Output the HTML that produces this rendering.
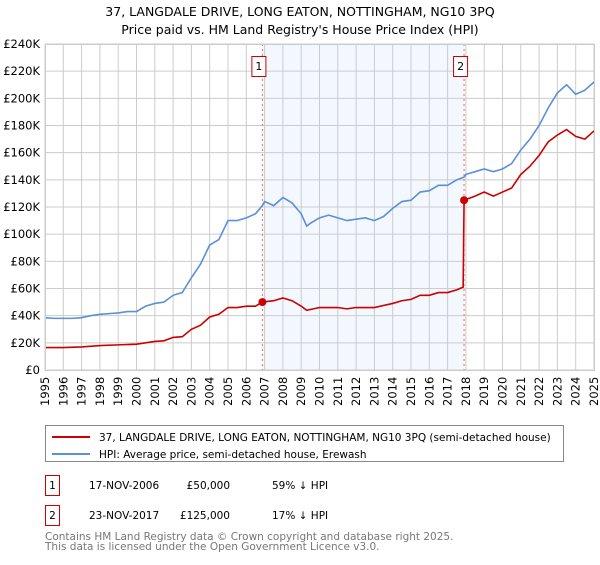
<!DOCTYPE html>
<html><head><meta charset="utf-8"><style>
body{margin:0;background:#fff;font-family:"Liberation Sans","DejaVu Sans",sans-serif;}
svg text{font-family:"DejaVu Sans","Liberation Sans",sans-serif;}
</style></head><body>
<svg id="c" width="600" height="560" xmlns="http://www.w3.org/2000/svg">
<text x="300" y="16" text-anchor="middle" font-size="12.5">37, LANGDALE DRIVE, LONG EATON, NOTTINGHAM, NG10 3PQ</text>
<text x="300" y="34" text-anchor="middle" font-size="12.5">Price paid vs. HM Land Registry's House Price Index (HPI)</text>
<g id="plot"></g>
<g>
<rect x="45.5" y="425.5" width="518" height="36" fill="#fff" stroke="#888"/>
<line x1="52" y1="437" x2="90" y2="437" stroke="#cc0000" stroke-width="2"/>
<text x="99" y="441" font-size="10.5">37, LANGDALE DRIVE, LONG EATON, NOTTINGHAM, NG10 3PQ (semi-detached house)</text>
<line x1="52" y1="454" x2="90" y2="454" stroke="#5b8fd6" stroke-width="2"/>
<text x="99" y="458" font-size="10.5">HPI: Average price, semi-detached house, Erewash</text>
</g>
<g font-size="10.5">
<rect x="45.5" y="475.5" width="14" height="20" fill="#fff" stroke="#cc0000"/>
<text x="52.5" y="489" text-anchor="middle">1</text>
<text x="89" y="489">17-NOV-2006</text><text x="230" y="489" text-anchor="end">£50,000</text><text x="272" y="489">59% ↓ HPI</text>
<rect x="45.5" y="505.5" width="14" height="20" fill="#fff" stroke="#cc0000"/>
<text x="52.5" y="519" text-anchor="middle">2</text>
<text x="89" y="519">23-NOV-2017</text><text x="230" y="519" text-anchor="end">£125,000</text><text x="272" y="519">17% ↓ HPI</text>
</g>
<text x="45" y="540" font-size="10.5" fill="#777">Contains HM Land Registry data © Crown copyright and database right 2025.</text>
<text x="45" y="550" font-size="10.5" fill="#777">This data is licensed under the Open Government Licence v3.0.</text>
</svg>
<script>
const yTicks=[0,20,40,60,80,100,120,140,160,180,200,220,240];
const years=[1995,1996,1997,1998,1999,2000,2001,2002,2003,2004,2005,2006,2007,2008,2009,2010,2011,2012,2013,2014,2015,2016,2017,2018,2019,2020,2021,2022,2023,2024,2025];
const hpiT=[1995,1995.5,1996,1996.5,1997,1997.5,1998,1998.5,1999,1999.5,2000,2000.5,2001,2001.5,2002,2002.5,2003,2003.5,2004,2004.5,2005,2005.5,2006,2006.5,2006.88,2007,2007.5,2008,2008.5,2009,2009.3,2009.5,2010,2010.5,2011,2011.5,2012,2012.5,2013,2013.5,2014,2014.5,2015,2015.5,2016,2016.5,2017,2017.5,2017.9,2018,2018.5,2019,2019.5,2020,2020.5,2021,2021.5,2022,2022.5,2023,2023.5,2024,2024.5,2025];
const hpiV=[38.5,38,38,38,38.5,40,41,41.5,42,43,43,47,49,50,55,57,68,78,92,96,110,110,112,115,121,124,121,127,123,115,106,108,112,114,112,110,111,112,110,113,119,124,125,131,132,136,136,140,142,144,146,148,146,148,152,162,170,180,193,204,210,203,206,212];
const ppT=[1995,1996,1997,1998,1999,2000,2000.5,2001,2001.5,2002,2002.5,2003,2003.5,2004,2004.5,2005,2005.5,2006,2006.5,2006.88,2007.5,2008,2008.5,2009,2009.3,2010,2011,2011.5,2012,2013,2014,2014.5,2015,2015.5,2016,2016.5,2017,2017.5,2017.85,2017.9,2018.5,2019,2019.5,2020,2020.5,2021,2021.5,2022,2022.5,2023,2023.5,2024,2024.5,2025];
const ppV=[16.5,16.5,17,18,18.5,19,20,21,21.5,24,24.5,30,33,39,41,46,46,47,47,50,51,53,51,47,44,46,46,45,46,46,49,51,52,55,55,57,57,59,61,125,128,131,128,131,134,144,150,158,168,173,177,172,170,176];
const saleT=[2006.88,2017.9];
const saleV=[50,125];
const saleLabels=["1","2"];
const NS="http://www.w3.org/2000/svg";
const X0=45,X1=594,Y0=370,Y1=44;
const x=t=>X0+(t-1995)/30*(X1-X0);
const y=v=>Y0-v/240*(Y0-Y1);
const g=document.getElementById('plot');
function mk(tag,a){const e=document.createElementNS(NS,tag);for(const k in a)e.setAttribute(k,a[k]);g.appendChild(e);return e;}
let e=mk('rect',{x:x(saleT[0]),y:Y1,width:x(saleT[1])-x(saleT[0]),height:Y0-Y1,fill:'#f3f7fe'});


yTicks.forEach(v=>{
 let l=mk('line',{x1:X0,x2:X1,y1:y(v),y2:y(v),stroke:'#ccc'});
 
 
 let t=mk('text',{x:40,y:y(v)+4,'text-anchor':'end','font-size':'11.5'});t.textContent=v===0?'£0':'£'+v+'K';
 
 
});
years.forEach(yr=>{
 let l=mk('line',{x1:x(yr),x2:x(yr),y1:Y1,y2:Y0,stroke:'#ccc'});
 
 
 let t=mk('text',{x:0,y:0,'font-size':'11.5',transform:`translate(${x(yr)+4},${Y0+36}) rotate(-90)`});t.textContent=yr;
 
 
});
saleT.forEach((t,i)=>{
 let l=mk('line',{x1:x(t),x2:x(t),y1:Y1,y2:Y0,stroke:'#e66','stroke-dasharray':'2,3'});
 
 
 let r=mk('rect',{x:x(t)-10.5,y:56.5,width:14,height:20,fill:'#fff',stroke:'#cc0000'});
 
 
 let tx=mk('text',{x:x(t)-3.5,y:70,'text-anchor':'middle','font-size':'11'});tx.textContent=saleLabels[i];
 
 
});
e=mk('polyline',{points:hpiT.map((t,i)=>x(t)+','+y(hpiV[i])).join(' '),fill:'none',stroke:'#5b8fd6','stroke-width':1.6});


e=mk('polyline',{points:ppT.map((t,i)=>x(t)+','+y(ppV[i])).join(' '),fill:'none',stroke:'#cc0000','stroke-width':1.6});


saleT.forEach((t,i)=>{
 let c=mk('circle',{cx:x(t),cy:y(saleV[i]),r:4,fill:'#cc0000'});
 
 
});
e=mk('rect',{x:X0+0.5,y:Y1+0.5,width:X1-X0,height:Y0-Y1,fill:'none',stroke:'#ccc'});


</script>
</body></html>
